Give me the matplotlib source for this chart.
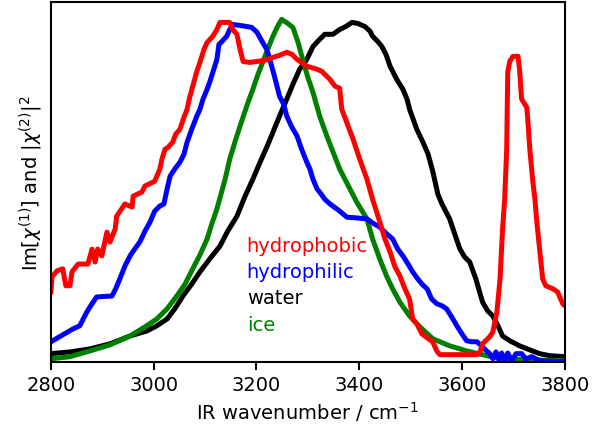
"""Sum-frequency / IR spectra of water, ice and interfacial water."""

import matplotlib
matplotlib.use("Agg")
import matplotlib.pyplot as plt


hydrophobic_x = [2800, 2802, 2812, 2823, 2829, 2837, 2841, 2853, 2872, 2880, 2886, 2891,
                 2899, 2909, 2915, 2925, 2928, 2944, 2958, 2960, 2977, 2983, 3002, 3012,
                 3016, 3022, 3028, 3037, 3043, 3051, 3059, 3065, 3070, 3076, 3084, 3090,
                 3098, 3104, 3115, 3123, 3129, 3148, 3154, 3162, 3168, 3174, 3187, 3201,
                 3216, 3232, 3245, 3259, 3269, 3279, 3298, 3318, 3327, 3343, 3353, 3362,
                 3366, 3388, 3401, 3415, 3426, 3440, 3450, 3460, 3469, 3479, 3489, 3498,
                 3504, 3512, 3522, 3543, 3551, 3557, 3629, 3635, 3640, 3654, 3660, 3668,
                 3674, 3679, 3683, 3687, 3689, 3693, 3699, 3709, 3712, 3716, 3726, 3728,
                 3732, 3738, 3742, 3745, 3757, 3763, 3777, 3786, 3796, 3800]
hydrophobic_y = [0.206, 0.250, 0.268, 0.274, 0.224, 0.224, 0.265, 0.288, 0.288, 0.332, 0.294, 0.332,
                 0.312, 0.382, 0.353, 0.391, 0.429, 0.465, 0.456, 0.488, 0.500, 0.518, 0.532, 0.568,
                 0.597, 0.626, 0.632, 0.647, 0.671, 0.685, 0.721, 0.744, 0.779, 0.812, 0.856, 0.882,
                 0.921, 0.941, 0.959, 0.979, 1.000, 1.000, 0.979, 0.965, 0.921, 0.885, 0.882, 0.885,
                 0.888, 0.897, 0.903, 0.912, 0.906, 0.891, 0.871, 0.862, 0.856, 0.832, 0.812, 0.806,
                 0.744, 0.656, 0.597, 0.538, 0.479, 0.412, 0.362, 0.324, 0.282, 0.253, 0.215, 0.185,
                 0.126, 0.112, 0.082, 0.059, 0.032, 0.021, 0.021, 0.029, 0.053, 0.074, 0.088, 0.147,
                 0.244, 0.391, 0.479, 0.626, 0.853, 0.885, 0.900, 0.900, 0.862, 0.774, 0.750, 0.715,
                 0.626, 0.529, 0.479, 0.421, 0.244, 0.224, 0.215, 0.206, 0.171, 0.165]

hydrophilic_x = [2800, 2817, 2843, 2856, 2870, 2880, 2889, 2919, 2926, 2934, 2944, 2954,
                 2963, 2973, 2983, 2993, 3002, 3012, 3020, 3026, 3032, 3041, 3051, 3059,
                 3065, 3074, 3084, 3090, 3096, 3104, 3109, 3117, 3123, 3127, 3133, 3142,
                 3148, 3154, 3168, 3181, 3191, 3201, 3212, 3220, 3226, 3234, 3240, 3245,
                 3253, 3259, 3269, 3279, 3288, 3298, 3304, 3310, 3318, 3323, 3333, 3343,
                 3362, 3376, 3395, 3415, 3426, 3440, 3454, 3465, 3475, 3485, 3495, 3504,
                 3514, 3522, 3532, 3541, 3551, 3561, 3570, 3580, 3590, 3600, 3609, 3619,
                 3629, 3638, 3648, 3654, 3660, 3666, 3672, 3677, 3683, 3689, 3697, 3705,
                 3716, 3724, 3736, 3751, 3800]
hydrophilic_y = [0.059, 0.074, 0.097, 0.106, 0.147, 0.171, 0.191, 0.194, 0.215, 0.244, 0.282, 0.312,
                 0.332, 0.353, 0.385, 0.412, 0.444, 0.459, 0.465, 0.509, 0.547, 0.568, 0.588, 0.612,
                 0.647, 0.685, 0.724, 0.744, 0.774, 0.803, 0.824, 0.862, 0.891, 0.935, 0.944, 0.959,
                 0.979, 0.994, 0.991, 0.988, 0.985, 0.971, 0.941, 0.921, 0.891, 0.847, 0.812, 0.782,
                 0.759, 0.724, 0.691, 0.665, 0.626, 0.588, 0.568, 0.538, 0.509, 0.500, 0.479, 0.465,
                 0.444, 0.426, 0.424, 0.421, 0.409, 0.397, 0.376, 0.362, 0.332, 0.312, 0.288, 0.265,
                 0.244, 0.229, 0.215, 0.185, 0.171, 0.165, 0.156, 0.132, 0.106, 0.082, 0.062, 0.059,
                 0.059, 0.047, 0.032, 0.024, 0.009, 0.029, 0.006, 0.026, 0.003, 0.026, 0.003, 0.024,
                 0.024, 0.009, 0.015, 0.003, 0.0]

water_x = [2800, 2837, 2876, 2915, 2954, 2987, 3006, 3026, 3041, 3057, 3074, 3090,
           3109, 3129, 3144, 3162, 3177, 3193, 3207, 3220, 3232, 3245, 3259, 3271,
           3284, 3298, 3310, 3323, 3333, 3349, 3362, 3374, 3386, 3397, 3411, 3421,
           3426, 3436, 3444, 3452, 3460, 3473, 3485, 3493, 3498, 3512, 3524, 3534,
           3543, 3553, 3561, 3576, 3586, 3596, 3605, 3615, 3627, 3640, 3650, 3660,
           3670, 3679, 3693, 3712, 3732, 3751, 3771, 3800]
water_y = [0.024, 0.029, 0.038, 0.053, 0.076, 0.091, 0.106, 0.126, 0.156, 0.194, 0.229, 0.265,
           0.303, 0.341, 0.385, 0.429, 0.485, 0.538, 0.588, 0.632, 0.676, 0.724, 0.774, 0.818,
           0.862, 0.891, 0.929, 0.950, 0.965, 0.965, 0.979, 0.988, 1.000, 0.997, 0.988, 0.974,
           0.959, 0.944, 0.929, 0.906, 0.871, 0.832, 0.803, 0.774, 0.744, 0.685, 0.647, 0.612,
           0.562, 0.494, 0.465, 0.421, 0.376, 0.332, 0.309, 0.294, 0.244, 0.176, 0.150, 0.135,
           0.106, 0.076, 0.062, 0.047, 0.035, 0.024, 0.018, 0.015]

ice_x = [2800, 2837, 2876, 2915, 2954, 2983, 3006, 3026, 3045, 3061, 3076, 3090,
         3104, 3113, 3123, 3131, 3139, 3148, 3158, 3168, 3181, 3193, 3203, 3212,
         3222, 3232, 3240, 3249, 3261, 3271, 3281, 3290, 3300, 3310, 3323, 3337,
         3349, 3362, 3382, 3395, 3415, 3426, 3440, 3454, 3465, 3479, 3498, 3518,
         3543, 3576, 3609, 3640, 3674, 3732, 3800]
ice_y = [0.009, 0.015, 0.032, 0.050, 0.076, 0.103, 0.126, 0.156, 0.194, 0.229, 0.274, 0.315,
         0.362, 0.406, 0.450, 0.494, 0.538, 0.597, 0.647, 0.694, 0.753, 0.803, 0.847, 0.882,
         0.921, 0.959, 0.985, 1.009, 0.997, 0.985, 0.941, 0.891, 0.838, 0.794, 0.724, 0.665,
         0.618, 0.568, 0.509, 0.471, 0.421, 0.362, 0.303, 0.250, 0.215, 0.176, 0.135, 0.103,
         0.068, 0.047, 0.032, 0.021, 0.009, 0.006, 0.003]

labels = ["hydrophobic", "hydrophilic", "water", "ice"]
colors = ["red", "blue", "black", "green"]


def main():
    plt.rcParams["font.size"] = 14
    fig = plt.figure(figsize=(5.92, 4.35), dpi=100)
    ax = fig.add_axes([0.086, 0.166, 0.868, 0.827])

    lw = 3.6
    ax.plot(water_x, water_y, color="black", lw=lw)
    ax.plot(ice_x, ice_y, color="green", lw=lw)
    ax.plot(hydrophilic_x, hydrophilic_y, color="blue", lw=lw)
    ax.plot(hydrophobic_x, hydrophobic_y, color="red", lw=lw)

    for i, (label, color) in enumerate(zip(labels, colors)):
        ax.text(3181, 0.344 - i * 0.078, label, color=color, va="center", ha="left")

    ax.set_xlim(2800, 3800)
    ax.set_ylim(0, 1.06)
    ax.set_yticks([])
    ax.set_xticks([2800, 3000, 3200, 3400, 3600, 3800])
    ax.set_xlabel("IR wavenumber / cm$^{-1}$")
    ax.set_ylabel(r"Im[$\chi^{(1)}$] and $|\chi^{(2)}|^2$")
    for spine in ax.spines.values():
        spine.set_linewidth(1.5)
    ax.tick_params(width=1.5, length=6)

    fig.savefig("out.png", dpi=100)
    plt.close(fig)


if __name__ == "__main__":
    main()
